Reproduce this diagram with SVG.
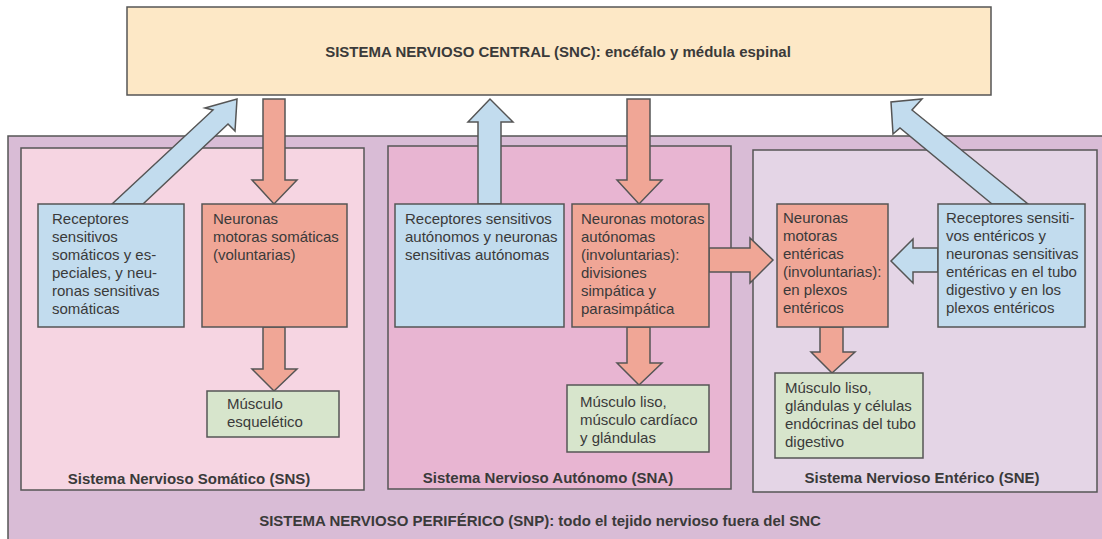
<svg xmlns="http://www.w3.org/2000/svg" width="1102" height="539" viewBox="0 0 1102 539">
<style>
.bx{stroke:#555;stroke-width:1.5}
.ar{stroke:#555;stroke-width:1.5;stroke-linejoin:miter}
.blue{fill:#c2dcee}
.red{fill:#f0a696}
.green{fill:#d7e5cc}
text{font-family:"Liberation Sans",Arial,sans-serif;fill:#3a3a3a}
.t{font-size:15px}
.b{font-size:15px;font-weight:bold}
</style>
<rect width="1102" height="539" fill="#ffffff"/>
<g id="snp">
<rect class="bx" x="8" y="136" width="1100" height="410" fill="#d9bcd6"/>
<text class="b" x="540" y="526" text-anchor="middle">SISTEMA NERVIOSO PERIFÉRICO (SNP): todo el tejido nervioso fuera del SNC</text>
</g>
<g id="snc">
<rect class="bx" x="127" y="7" width="864" height="88" fill="#fde8c6"/>
<text class="b" x="558" y="57" text-anchor="middle">SISTEMA NERVIOSO CENTRAL (SNC): encéfalo y médula espinal</text>
</g>
<g id="sns">
<rect class="bx" x="21" y="148" width="343" height="342" fill="#f6d5e2"/>
<text class="b" x="189" y="484" text-anchor="middle">Sistema Nervioso Somático (SNS)</text>
</g>
<g id="sna">
<rect class="bx" x="388" y="146" width="343" height="343" fill="#e8b5d2"/>
<text class="b" x="548" y="483" text-anchor="middle">Sistema Nervioso Autónomo (SNA)</text>
</g>
<g id="sne">
<rect class="bx" x="753" y="150" width="344" height="342" fill="#e4d5e6"/>
<text class="b" x="922" y="483" text-anchor="middle">Sistema Nervioso Entérico (SNE)</text>
</g>
<g id="connectors">
<polygon class="ar blue" points="112,204 213,110 205,108 237,99 235,131 228,124 143,204"/>
<polygon class="ar red" points="263,99 285,99 285,180 297,180 274,204 252,180 263,180"/>
<polygon class="ar red" points="263,327 285,327 285,369 297,369 274,391 252,369 263,369"/>
<polygon class="ar blue" points="478,204 478,122 468,122 490,99 513,122 501,122 501,204"/>
<polygon class="ar red" points="627,99 650,99 650,180 662,180 639,204 617,180 627,180"/>
<polygon class="ar red" points="627,327 650,327 650,363 662,363 639,385 617,363 627,363"/>
<polygon class="ar red" points="709,248 750,248 750,238 773,260 750,283 750,272 709,272"/>
<polygon class="ar blue" points="938,248 913,248 913,239 891,261 913,283 913,272 938,272"/>
<polygon class="ar red" points="820,327 843,327 843,352 855,352 832,373 811,352 820,352"/>
<polygon class="ar blue" points="992,204 900,128 893,134 891,102 922,99 912,110 1028,204"/>
</g>
<g id="sns-sens">
<rect class="bx blue" x="38" y="204" width="146" height="123"/>
<text class="t" x="52" y="224">Receptores</text>
<text class="t" x="52" y="242">sensitivos</text>
<text class="t" x="52" y="260">somáticos y es-</text>
<text class="t" x="52" y="278">peciales, y neu-</text>
<text class="t" x="52" y="296">ronas sensitivas</text>
<text class="t" x="52" y="314">somáticas</text>
</g>
<g id="sns-motor">
<rect class="bx red" x="202" y="204" width="145" height="123"/>
<text class="t" x="213" y="224">Neuronas</text>
<text class="t" x="213" y="242">motoras somáticas</text>
<text class="t" x="213" y="260">(voluntarias)</text>
</g>
<g id="sns-effector">
<rect class="bx green" x="207" y="391" width="132" height="46"/>
<text class="t" x="227" y="409">Músculo</text>
<text class="t" x="227" y="427">esquelético</text>
</g>
<g id="sna-sens">
<rect class="bx blue" x="395" y="204" width="169" height="123"/>
<text class="t" x="405" y="224">Receptores sensitivos</text>
<text class="t" x="405" y="242">autónomos y neuronas</text>
<text class="t" x="405" y="260">sensitivas autónomas</text>
</g>
<g id="sna-motor">
<rect class="bx red" x="572" y="204" width="137" height="123"/>
<text class="t" x="581" y="224">Neuronas motoras</text>
<text class="t" x="581" y="242">autónomas</text>
<text class="t" x="581" y="260">(involuntarias):</text>
<text class="t" x="581" y="278">divisiones</text>
<text class="t" x="581" y="296">simpática y</text>
<text class="t" x="581" y="314">parasimpática</text>
</g>
<g id="sna-effector">
<rect class="bx green" x="567" y="385" width="142" height="67"/>
<text class="t" x="580" y="407">Músculo liso,</text>
<text class="t" x="580" y="425">músculo cardíaco</text>
<text class="t" x="580" y="443">y glándulas</text>
</g>
<g id="sne-motor">
<rect class="bx red" x="777" y="204" width="111" height="123"/>
<text class="t" x="783" y="223">Neuronas</text>
<text class="t" x="783" y="241">motoras</text>
<text class="t" x="783" y="259">entéricas</text>
<text class="t" x="783" y="277">(involuntarias):</text>
<text class="t" x="783" y="295">en plexos</text>
<text class="t" x="783" y="313">entéricos</text>
</g>
<g id="sne-sens">
<rect class="bx blue" x="938" y="204" width="147" height="123"/>
<text class="t" x="946" y="223">Receptores sensiti-</text>
<text class="t" x="946" y="241">vos entéricos y</text>
<text class="t" x="946" y="259">neuronas sensitivas</text>
<text class="t" x="946" y="277">entéricas en el tubo</text>
<text class="t" x="946" y="295">digestivo y en los</text>
<text class="t" x="946" y="313">plexos entéricos</text>
</g>
<g id="sne-effector">
<rect class="bx green" x="775" y="373" width="148" height="85"/>
<text class="t" x="785" y="393">Músculo liso,</text>
<text class="t" x="785" y="411">glándulas y células</text>
<text class="t" x="785" y="429">endócrinas del tubo</text>
<text class="t" x="785" y="447">digestivo</text>
</g>
</svg>
